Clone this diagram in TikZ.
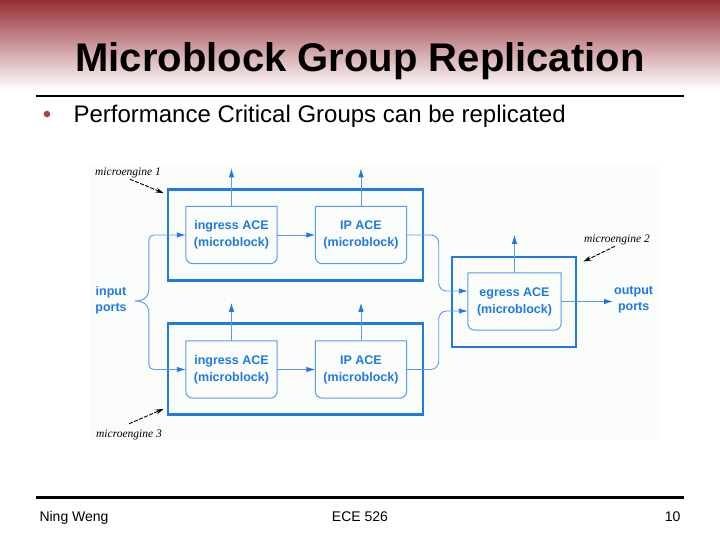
\documentclass[tikz,border=0pt]{standalone}
\usepackage{fontspec}
\setmainfont{Liberation Sans}
\setsansfont{Liberation Sans}
\newfontfamily\notefont{Liberation Serif}
\usepackage{xcolor}
\definecolor{slidered}{HTML}{963036}
\definecolor{bulletred}{HTML}{A04848}
\definecolor{aceblue}{HTML}{2079E2}
\definecolor{wireblue}{HTML}{5A9AEA}
\definecolor{figbg}{HTML}{FAFCFA}
\usetikzlibrary{arrows.meta, positioning, calc}

\begin{document}
\begin{tikzpicture}[
  x=1pt, y=-1pt,
  every node/.style={font=\sffamily},
  engbox/.style={draw=aceblue, line width=2.8pt, minimum width=255pt, minimum height=91pt, inner sep=0pt},
  acetext/.style={text=aceblue, font=\fontsize{12.5}{17}\selectfont\bfseries\sffamily, align=center,
                  minimum width=91pt, minimum height=57pt, inner sep=0pt},
  porttext/.style={text=aceblue, font=\fontsize{12.5}{16}\selectfont\bfseries\sffamily, align=center, inner sep=1pt},
  aceline/.style={draw=wireblue, line width=1pt},
  wire/.style={wireblue, line width=0.9pt, -{Latex[length=9pt, width=5.5pt, color=aceblue]}},
  notetext/.style={font=\notefont\itshape\fontsize{11.5}{13}\selectfont, inner sep=1pt},
  noteline/.style={black, line width=0.9pt, dash pattern=on 4pt off 1.5pt, -{Stealth[length=8pt, width=5pt]}}
]
  \useasboundingbox (0,0) rectangle (720,540);

  % Slide header and footer
  \shade[top color=slidered, middle color=slidered!50!white, bottom color=white] (0,0) rectangle (720,90);
  \node[anchor=base, font=\fontsize{40}{48}\selectfont\bfseries\sffamily] (title) at (360,72)
    {Microblock Group Replication};
  \draw[line width=2.6pt] (36,96) -- (684,96);
  \node[anchor=base, text=bulletred, font=\fontsize{24}{26}\selectfont] (dot) at (47,123) {\textbullet};
  \node[anchor=base west, font=\fontsize{24}{28}\selectfont\sffamily] (point) at (70,123)
    {Performance Critical Groups can be replicated};
  \draw[line width=2.6pt] (36,497.5) -- (684,497.5);
  \node[anchor=base west, font=\fontsize{14}{16}\selectfont] (author) at (36,521) {Ning Weng};
  \node[anchor=base, font=\fontsize{14}{16}\selectfont] (course) at (360,521) {ECE 526};
  \node[anchor=base east, font=\fontsize{14}{16}\selectfont] (page) at (684,521) {10};

  % Figure area
  \fill[figbg] (90,165) rectangle (660,440);

  % Microengines
  \node[engbox] (eng1) at (295.5,235) {};
  \node[engbox] (eng3) at (295.5,369) {};
  \node[engbox, minimum width=124pt, minimum height=90pt] (eng2) at (514,302) {};

  % Macro for one ACE block, square top and rounded bottom
  \newcommand{\aceblock}[1]{%
    \draw[aceline] (#1.north west) -- (#1.north east) [rounded corners=7pt]
      -- (#1.south east) -- (#1.south west) [sharp corners] -- (#1.north west);
  }

  \node[acetext] (ing1) at (231.5,235) {ingress ACE\\(microblock)};
  \node[acetext] (ip1) at (361,235) {IP ACE\\(microblock)};
  \node[acetext] (ing2) at (231.5,369.5) {ingress ACE\\(microblock)};
  \node[acetext] (ip2) at (361,369.5) {IP ACE\\(microblock)};
  \node[acetext, minimum width=93pt] (egr) at (514.5,301.5) {egress ACE\\(microblock)};
  \foreach \n in {ing1, ip1, ing2, ip2, egr} {\aceblock{\n}}

  \node[porttext] (inp) at (111,300) {input\\ports};
  \node[porttext, anchor=west] (outp) at (613,300) {output\\ports};

  % Packet flow
  \foreach \n in {ing1, ip1, ing2, ip2, egr} {
    \coordinate (\n-up) at ([yshift=38pt]\n.north);
    \draw[wire] (\n.north) -- (\n-up);
  }
  \draw[wire] (ing1) -- (ip1);
  \draw[wire] (ing2) -- (ip2);
  \coordinate (brace) at ([xshift=7pt]inp.east |- 0,301);
  \draw[wire, rounded corners=5pt] (brace) -- ++(7,0) -- ++(7,-6) |- (ing1.west);
  \draw[wire, rounded corners=5pt] (brace) -- ++(7,0) -- ++(7,6) |- (ing2.west);
  \draw[wire, rounded corners=8pt] (ip1.east) -- ++(32,0) |- ([yshift=10.5pt]egr.west);
  \draw[wire, rounded corners=8pt] (ip2.east) -- ++(32,0) |- ([yshift=-9.5pt]egr.west);
  \draw[wire] (egr.east) -- (egr.east -| outp.west);

  % Microengine labels
  \node[notetext] (me1) at (128,173) {microengine 1};
  \node[notetext] (me2) at (617,240) {microengine 2};
  \node[notetext] (me3) at (129,435) {microengine 3};
  \draw[noteline] ([xshift=2pt]me1.south) -- ([xshift=-3pt,yshift=-5pt]eng1.north west);
  \draw[noteline] ([xshift=-2pt]me2.south) -- ([xshift=6pt,yshift=-6pt]eng2.north east);
  \draw[noteline] ([yshift=5pt]me3.north) -- ([xshift=-3pt,yshift=7pt]eng3.south west);
\end{tikzpicture}
\end{document}
